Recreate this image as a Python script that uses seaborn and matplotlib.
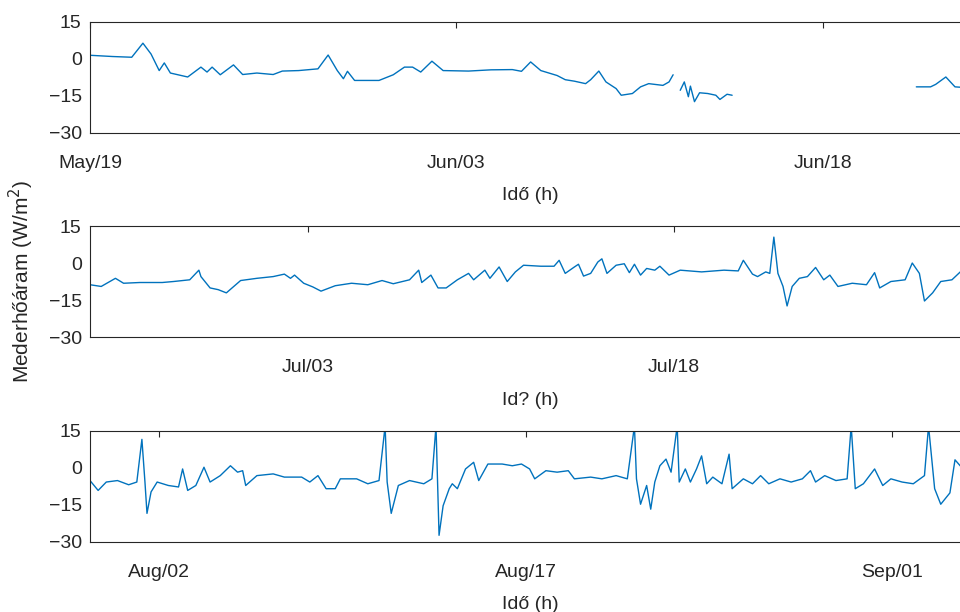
import numpy as np
import pandas as pd
import matplotlib
matplotlib.use("Agg")
import matplotlib.pyplot as plt
import seaborn as sns

# hourly heat flux, split into three panels of equal length
START = pd.Timestamp("2016-05-19")
PANEL_HOURS = 866

# hours from panel start / flux (W/m2); nan = missing data
p1_hours = [0, 22, 41, 52, 60, 68, 73, 79, 96, 109, 115, 120, 128, 141, 150, 164,
            180, 189, 205, 224, 234, 243, 249, 253, 260, 284, 298, 309, 317, 325,
            336, 347, 372, 394, 415, 424, 433, 443, 459, 467, 476, 487, 492, 500,
            507, 517, 522, 533, 541, 549, 563, 569, 573, 576, 580, 584, 588, 590,
            594, 599, 607, 615, 619, 626, 631, 700, 812, 826, 831, 841, 850, 857, 866]
p1_vals = [1.5, 1.0, 0.7, 6.4, 2.0, -4.7, -1.6, -5.7, -7.3, -3.3, -5.3, -3.3, -6.4,
           -2.4, -6.3, -5.7, -6.3, -4.9, -4.7, -4.0, 1.6, -4.7, -8.0, -5.0, -8.7,
           -8.7, -6.4, -3.3, -3.3, -5.3, -0.9, -4.7, -4.9, -4.4, -4.3, -5.0, -1.2,
           -4.7, -6.7, -8.4, -9.0, -10.0, -8.4, -4.9, -9.3, -12.0, -14.7, -14.0,
           -11.3, -10.0, -10.7, -9.3, -6.4, np.nan, -12.7, -9.3, -15.3, -11.0,
           -17.3, -13.7, -14.0, -14.7, -16.4, -14.3, -14.7, np.nan, -11.3, -11.3,
           -10.3, -7.3, -11.3, -11.5, -11.8]

p2_hours = [0, 11, 25, 33, 49, 71, 82, 98, 107, 109, 118, 126, 134, 148, 164, 180,
            191, 197, 201, 210, 219, 227, 241, 257, 273, 287, 298, 314, 323, 326,
            335, 342, 350, 361, 372, 377, 388, 393, 402, 410, 418, 426, 443, 456,
            461, 467, 476, 480, 485, 492, 499, 503, 508, 517, 525, 530, 535, 541,
            547, 555, 560, 569, 580, 601, 623, 637, 642, 651, 656, 664, 668, 672,
            676, 681, 685, 690, 697, 705, 713, 721, 727, 735, 749, 763, 771, 776,
            787, 801, 808, 815, 820, 828, 836, 847, 857, 866]
p2_vals = [-8.8, -9.5, -6.2, -8.2, -7.9, -7.9, -7.5, -6.8, -2.9, -5.5, -10.1, -10.8,
           -12.1, -7.1, -6.2, -5.5, -4.5, -6.2, -4.9, -8.2, -9.7, -11.4, -9.2, -8.2,
           -8.8, -7.1, -8.4, -6.8, -2.9, -7.9, -4.9, -10.1, -10.1, -6.8, -4.2, -6.8,
           -2.9, -6.2, -1.6, -7.5, -3.6, -0.9, -1.3, -1.3, 1.1, -4.2, -1.6, -0.5,
           -5.3, -4.2, 0.4, 1.7, -4.2, -0.9, -0.3, -3.9, -0.5, -4.9, -2.2, -2.9,
           -1.3, -4.9, -2.9, -3.6, -2.9, -3.2, 1.1, -4.5, -5.5, -3.6, -4.2, 10.5,
           -4.2, -9.5, -17.4, -9.5, -6.2, -5.5, -1.8, -6.8, -4.9, -9.5, -8.2, -8.8,
           -3.9, -10.1, -7.5, -6.8, 0.0, -4.2, -15.4, -12.1, -7.5, -6.8, -2.9, -3.5]

p3_hours = [0, 8, 16, 27, 38, 46, 51, 54, 56, 60, 66, 77, 87, 91, 96, 104, 112, 118,
            128, 138, 145, 150, 153, 164, 180, 191, 208, 216, 224, 232, 241, 246,
            262, 273, 284, 290, 292, 296, 303, 314, 328, 336, 340, 343, 347, 353,
            356, 361, 369, 377, 382, 391, 405, 415, 424, 432, 437, 448, 459, 470,
            476, 492, 503, 517, 528, 535, 537, 541, 547, 551, 555, 560, 566, 571,
            577, 579, 585, 590, 596, 601, 606, 612, 621, 628, 631, 642, 651, 659,
            667, 678, 689, 700, 708, 713, 722, 733, 744, 748, 752, 760, 771, 779,
            787, 798, 809, 820, 824, 830, 836, 845, 850, 857, 866]
p3_vals = [-5.1, -9.1, -5.7, -5.1, -6.8, -5.7, 11.6, -5.7, -18.4, -9.7, -5.7, -7.1,
           -7.7, -0.4, -9.1, -7.1, 0.3, -5.7, -3.1, 0.9, -1.7, -1.1, -7.1, -3.1,
           -2.4, -3.7, -3.7, -5.7, -3.1, -8.4, -8.4, -4.4, -4.4, -6.4, -5.1, 17.0,
           -5.7, -18.4, -7.1, -5.1, -6.4, -4.4, 17.0, -27.3, -15.3, -8.4, -6.4, -8.4,
           -0.4, 2.3, -5.1, 1.6, 1.6, 0.9, 1.6, -0.4, -4.4, -1.1, -1.7, -1.1, -4.4,
           -3.7, -4.4, -3.1, -4.4, 17.0, -4.4, -14.7, -7.1, -16.7, -5.7, 0.9, 3.6,
           -1.7, 17.0, -5.7, -0.4, -5.7, -0.4, 4.9, -6.4, -3.7, -6.4, 5.6, -8.4,
           -4.4, -6.4, -3.1, -6.4, -4.4, -5.7, -4.4, -1.1, -5.7, -3.1, -5.1, -4.4,
           17.0, -8.4, -6.4, -0.4, -7.1, -4.4, -5.7, -6.4, -3.1, 17.0, -8.4, -14.7,
           -10.1, 3.3, 0.0, -2.0]

tick_dates = [["2016-05-19", "2016-06-03", "2016-06-18"],
              ["2016-07-03", "2016-07-18"],
              ["2016-08-02", "2016-08-17", "2016-09-01"]]
xlabels = ["Id\u0151 (h)", "Id? (h)", "Id\u0151 (h)"]
ylabel = "Mederh\u0151\u00e1ram (W/m$^2$)"
yticks = [-30, -15, 0, 15]


def make_frame(hours, vals, panel):
    df = pd.DataFrame({"h": hours, "flux": vals})
    df["seg"] = df["flux"].isna().cumsum()
    df = df.dropna()
    df["time"] = START + pd.to_timedelta(df["h"] + panel * PANEL_HOURS, unit="h")
    return df


sns.set_style("white")
plt.rcParams["font.family"] = ["Liberation Sans", "DejaVu Sans"]

fig = plt.figure(figsize=(9.6, 6.12), dpi=100)
# axes run a little past the right edge, as in the cropped original
positions = [[0.09375, 0.7827, 0.918, 0.1814],
             [0.09375, 0.4493, 0.918, 0.1814],
             [0.09375, 0.1144, 0.918, 0.1814]]

data = [(p1_hours, p1_vals), (p2_hours, p2_vals), (p3_hours, p3_vals)]
dark = "#262626"
for i, (hh, vv) in enumerate(data):
    ax = fig.add_axes(positions[i])
    df = make_frame(hh, vv, i)
    sns.lineplot(data=df, x="time", y="flux", units="seg", estimator=None,
                 color="#0072BD", lw=1.0, ax=ax)
    t0 = START + pd.Timedelta(hours=i * PANEL_HOURS)
    ax.set_xlim(t0, t0 + pd.Timedelta(hours=PANEL_HOURS))
    ax.set_ylim(-30, 15)
    ax.set_yticks(yticks)
    ticks = pd.to_datetime(tick_dates[i])
    ax.set_xticks(ticks)
    ax.set_xticklabels([t.strftime("%b/%d") for t in ticks])
    ax.tick_params(direction="in", top=True, right=True, length=4, width=0.8,
                   labelsize=14, colors=dark)
    ax.tick_params(axis="x", pad=16)
    ax.tick_params(axis="y", pad=6)
    for s in ax.spines.values():
        s.set_color(dark)
        s.set_linewidth(0.8)
    ax.set_xlabel(xlabels[i], fontsize=14, color=dark, labelpad=11)
    ax.set_ylabel("")
    if i == 1:
        ax.set_ylabel(ylabel, fontsize=15, color=dark)
        ax.yaxis.set_label_coords(-0.061, 0.5)

fig.savefig("out.png", dpi=100)
